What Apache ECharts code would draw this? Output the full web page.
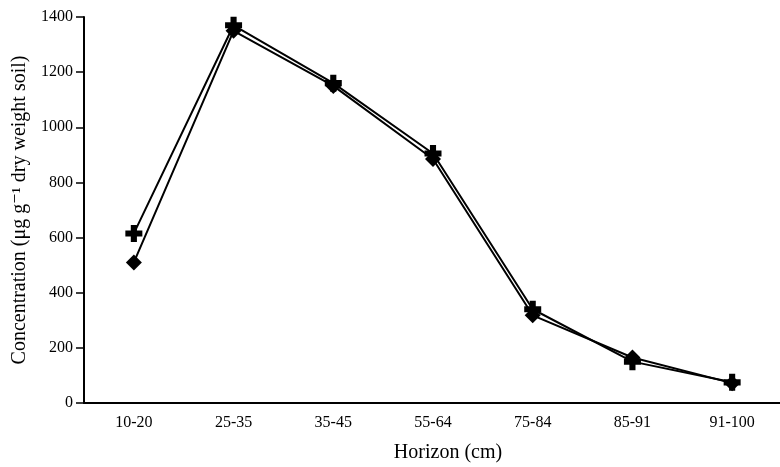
<!DOCTYPE html>
<html>
<head>
<meta charset="utf-8">
<script src="https://cdn.jsdelivr.net/npm/echarts@6/dist/echarts.min.js"></script>
<style>
  html, body { margin: 0; padding: 0; background: #fff; }
  #chart { width: 780px; height: 467px; }
</style>
</head>
<body>
<div id="chart"></div>
<script>
// horizons (cm)
const horizons = ['10-20', '25-35', '35-45', '55-64', '75-84', '85-91', '91-100']
// cross-marker series
const crossValues = [615, 1370, 1160, 905, 340, 150, 75]
// diamond-marker series
const diamondValues = [510, 1350, 1150, 885, 318, 165, 72]

const serif = '"Liberation Serif", "DejaVu Serif", serif'
// thick plus sign
const plusPath = 'path://M32,0 L68,0 L68,32 L100,32 L100,68 L68,68 L68,100 L32,100 L32,68 L0,68 L0,32 L32,32 Z'

const chart = echarts.init(document.getElementById('chart'))

chart.setOption({
  animation: false,
  backgroundColor: '#fff',
  grid: { left: 84, right: -2, top: 17, bottom: 64, outerBoundsMode: 'none', containLabel: false },
  xAxis: {
    type: 'category',
    data: horizons,
    boundaryGap: true,
    name: 'Horizon (cm)',
    nameLocation: 'middle',
    nameGap: 40,
    nameTextStyle: { fontFamily: serif, fontSize: 20, color: '#000', padding: [0, 0, 0, 30] },
    axisLine: { lineStyle: { color: '#000', width: 2 } },
    axisTick: { alignWithLabel: true, length: 5, lineStyle: { color: '#000', width: 1.5 } },
    axisLabel: { fontFamily: serif, fontSize: 16, color: '#000', margin: 12 }
  },
  yAxis: {
    type: 'value',
    min: 0,
    max: 1400,
    interval: 200,
    name: 'Concentration (μg g⁻¹ dry weight soil)',
    nameLocation: 'middle',
    nameGap: 53,
    nameTextStyle: { fontFamily: serif, fontSize: 20, color: '#000' },
    axisLine: { show: true, lineStyle: { color: '#000', width: 2 } },
    axisTick: { show: true, length: 8, lineStyle: { color: '#000', width: 1.5 } },
    axisLabel: {
      fontFamily: serif, fontSize: 16, color: '#000', margin: 11,
      formatter: v => String(v)
    },
    splitLine: { show: false }
  },
  series: [
    {
      name: 'cross',
      type: 'line',
      data: crossValues,
      symbol: plusPath,
      symbolSize: 17,
      showAllSymbol: true,
      itemStyle: { color: '#000' },
      lineStyle: { color: '#000', width: 2 }
    },
    {
      name: 'diamond',
      type: 'line',
      data: diamondValues,
      symbol: 'diamond',
      symbolSize: 16,
      showAllSymbol: true,
      itemStyle: { color: '#000' },
      lineStyle: { color: '#000', width: 2 }
    }
  ]
})
</script>
</body>
</html>
